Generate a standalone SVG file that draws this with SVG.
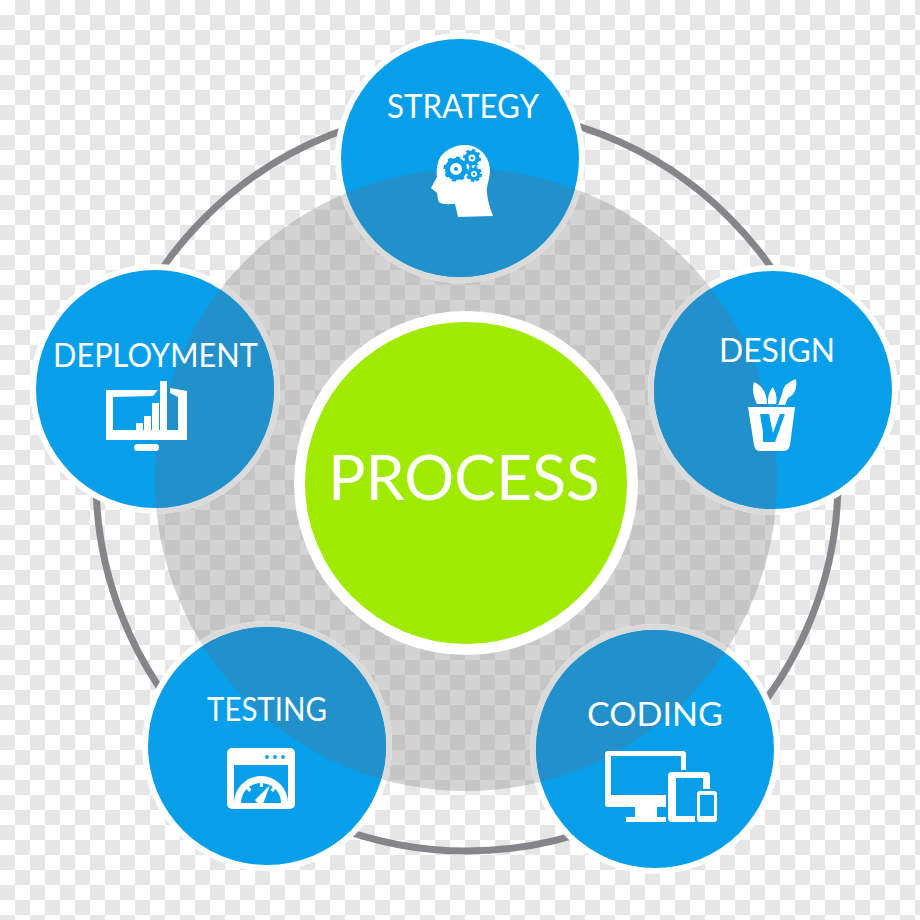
<svg xmlns="http://www.w3.org/2000/svg" width="920" height="920" viewBox="0 0 920 920">
<style>
.halo{fill:#fff}
.halo-in{fill:#dadada;clip-path:url(#disc)}
.blue{fill:#079fea}
.lens{fill:#2290cb;clip-path:url(#disc)}
.ic{fill:#fff}
.cut{fill:#079fea}
text{font-family:"Lato","Open Sans","Liberation Sans",sans-serif;font-weight:400;fill:#fff;font-size:33px}
</style>
<defs>
<pattern id="check" width="30" height="30" patternUnits="userSpaceOnUse">
<rect width="30" height="30" fill="#fff"/>
<rect x="15" width="15" height="15" fill="#e6e6e6"/>
<rect y="15" width="15" height="15" fill="#e6e6e6"/>
</pattern>
<pattern id="check2" width="30" height="30" patternUnits="userSpaceOnUse">
<rect width="30" height="30" fill="#d3d3d3"/>
<rect x="15" width="15" height="15" fill="#c5c5c5"/>
<rect y="15" width="15" height="15" fill="#c5c5c5"/>
</pattern>
<clipPath id="disc"><circle cx="466" cy="480" r="311"/></clipPath>
</defs>
<rect id="background" width="920" height="920" fill="url(#check)"/>
<g id="connectors"><circle cx="467" cy="480" r="371" fill="none" stroke="#86868a" stroke-width="7"/></g>
<circle id="disc-shape" cx="466" cy="480" r="311" fill="url(#check2)"/>

<g id="node-strategy">
<circle class="halo" cx="460" cy="158" r="125"/><circle class="halo-in" cx="460" cy="158" r="125"/>
<circle class="blue" cx="460" cy="158" r="119"/><circle class="lens" cx="460" cy="158" r="119"/>
<text x="387" y="118" textLength="152" lengthAdjust="spacingAndGlyphs">STRATEGY</text>
<path class="ic" d="M465 145C478 145 489 155 490 169C490 180 486 186 487 193C488 203 491 210 493 216L458 217L455 204C449 204 442 205 439 202C437 199 438 196 437 193L431 188L437 177C436 168 438 160 441 156C447 149 455 145 465 145Z"/>
<g fill="none" stroke="#079fea">
<circle cx="456" cy="169" r="8.5" stroke-width="5"/><circle cx="456" cy="169" r="11" stroke-width="3" stroke-dasharray="4 4.6"/>
<circle cx="472" cy="158" r="5.5" stroke-width="4"/><circle cx="472" cy="158" r="7.8" stroke-width="2.5" stroke-dasharray="3 3.1"/>
<circle cx="474" cy="174" r="4.8" stroke-width="3.5"/><circle cx="474" cy="174" r="6.8" stroke-width="2.5" stroke-dasharray="3 2.35"/>
</g>
<g class="cut"><circle cx="456" cy="169" r="2"/><circle cx="472" cy="158" r="1.5"/><circle cx="474" cy="174" r="1.3"/></g>
</g>

<g id="node-design">
<circle class="halo" cx="773" cy="390" r="125"/><circle class="halo-in" cx="773" cy="390" r="125"/>
<circle class="blue" cx="773" cy="390" r="119"/><circle class="lens" cx="773" cy="390" r="119"/>
<text x="719" y="362" textLength="116" lengthAdjust="spacingAndGlyphs">DESIGN</text>
<path class="ic" d="M748 407H795L790 445Q789 451 783 451H760Q755 451 754 445Z"/>
<path class="cut" d="M760 414H769L773 433L780 414H785L775 442H763L763 432Z"/>
<path class="ic" d="M754 382Q767 388 767 404H757Q751 392 754 382ZM773 387Q778 396 776 404H768Q767 394 773 387Z"/>
<path class="ic" d="M796 379Q798 393 788 398L785 405H778L782 394Q783 383 796 379Z"/>
</g>

<g id="node-coding">
<circle class="halo" cx="655" cy="749" r="125"/><circle class="halo-in" cx="655" cy="749" r="125"/>
<circle class="blue" cx="655" cy="749" r="119"/><circle class="lens" cx="655" cy="749" r="119"/>
<text x="587" y="726" textLength="136" lengthAdjust="spacingAndGlyphs">CODING</text>
<path class="ic" fill-rule="evenodd" d="M608 751H683Q686 751 686 754V804Q686 807 683 807H608Q605 807 605 804V754Q605 751 608 751ZM611 756V795H681V756Z"/>
<path class="ic" d="M635 807H657V817H666V822H626V817H635Z"/>
<rect class="cut" x="666" y="770" width="46" height="54" rx="5"/>
<rect class="ic" x="668" y="772" width="42" height="50" rx="4"/>
<rect class="cut" x="676" y="778" width="27" height="38"/>
<rect class="cut" x="695" y="789" width="24" height="35" rx="4"/>
<rect class="ic" x="697" y="791" width="20" height="31" rx="3"/>
<rect class="cut" x="700" y="795" width="14" height="21"/>
</g>

<g id="node-testing">
<circle class="halo" cx="267" cy="746" r="125"/><circle class="halo-in" cx="267" cy="746" r="125"/>
<circle class="blue" cx="267" cy="746" r="119"/><circle class="lens" cx="267" cy="746" r="119"/>
<text x="207" y="721" textLength="120" lengthAdjust="spacingAndGlyphs">TESTING</text>
<rect class="ic" x="227" y="748" width="68" height="61" rx="5"/>
<rect class="cut" x="234" y="765" width="54" height="38"/>
<g class="cut"><circle cx="267" cy="757" r="2"/><circle cx="275" cy="757" r="2"/><circle cx="283" cy="757" r="2"/></g>
<path class="ic" fill-rule="evenodd" d="M234 803A27 27 0 0 1 288 803H281A20 20 0 0 0 241 803Z"/>
<path class="ic" d="M260 782h3v5h-3ZM246 788l2.500-2 3 4-2.500 2ZM276 788l-2.500-2-3 4 2.500 2ZM255 800L270 785L263 804Q258 805 255 800Z"/>
</g>

<g id="node-deployment">
<circle class="halo" cx="155" cy="389" r="125"/><circle class="halo-in" cx="155" cy="389" r="125"/>
<circle class="blue" cx="155" cy="389" r="119"/><circle class="lens" cx="155" cy="389" r="119"/>
<text x="53" y="367" textLength="205" lengthAdjust="spacingAndGlyphs">DEPLOYMENT</text>
<path class="ic" d="M106 390H158L153 396L113 397V430H178V397L170 393V388L187 391V440H106Z"/>
<path class="ic" d="M136 423h7v7h-7ZM144 416h7v14h-7ZM152 403h7v27h-7ZM160 381h7v49h-7Z"/>
<rect class="ic" x="134" y="444" width="25" height="7" rx="3.500"/>
</g>

<g id="node-process">
<circle cx="466" cy="483" r="172" fill="#fff"/>
<circle cx="466" cy="483" r="161" fill="#9fea00"/>
<text x="328" y="500" textLength="272" lengthAdjust="spacingAndGlyphs" style="font-size:62px">PROCESS</text>
</g>
</svg>
